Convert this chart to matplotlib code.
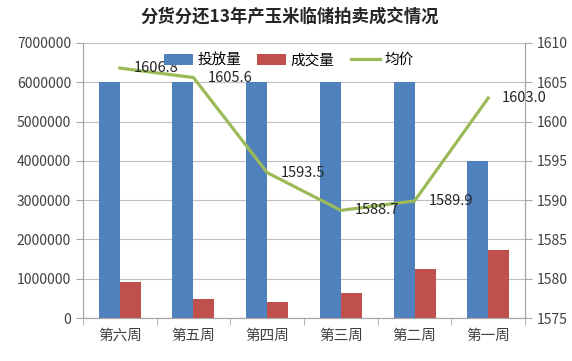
import numpy as np
import matplotlib.pyplot as plt
from matplotlib.ticker import FixedLocator, NullFormatter

plt.rcParams['font.family'] = ['Noto Sans CJK SC', 'DejaVu Sans']

# --- data ---
weeks = ['第六周', '第五周', '第四周', '第三周', '第二周', '第一周']
supply = [6000000, 6000000, 6000000, 6000000, 6000000, 4000000]     # 投放量
deals = [920000, 480000, 400000, 630000, 1250000, 1730000]          # 成交量
avg_price = [1606.8, 1605.6, 1593.5, 1588.7, 1589.9, 1603.0]        # 均价

blue = '#4F81BD'
red = '#C0504D'
green = '#9BBB59'
axis_grey = '#A6A6A6'
text_col = '#404040'

fig = plt.figure(figsize=(5.72, 3.61), dpi=100)
ax = fig.add_axes([0.145, 0.119, 0.773, 0.762])
ax2 = ax.twinx()

x = np.arange(len(weeks))
w = 0.285
b1 = ax.bar(x - w / 2, supply, w, color=blue, label='投放量', zorder=2)
b2 = ax.bar(x + w / 2, deals, w, color=red, label='成交量', zorder=2)
ln, = ax2.plot(x, avg_price, color=green, lw=2.3, label='均价', zorder=3)

for xi, v in zip(x, avg_price):
    ax2.annotate(f'{v:.1f}', (xi, v), xytext=(10, 0), textcoords='offset points',
                 ha='left', va='center', fontsize=10.5, color='#262626')

ax.set_xlim(-0.5, len(weeks) - 0.5)
ax.set_ylim(0, 7000000)
ax.set_yticks(np.arange(0, 7000001, 1000000))
ax.set_yticklabels([str(v) for v in range(0, 7000001, 1000000)])
ax.grid(axis='y', color='#BFBFBF', lw=0.8, zorder=0)
ax.set_axisbelow(True)

ax2.set_ylim(1575, 1610)
ax2.set_yticks(np.arange(1575, 1611, 5))

ax.set_xticks(x)
ax.set_xticklabels(weeks, fontsize=10.5, color=text_col)
ax.xaxis.set_minor_locator(FixedLocator(np.arange(-0.5, len(weeks), 1)))
ax.xaxis.set_minor_formatter(NullFormatter())
ax.tick_params(axis='x', which='major', length=0, pad=8)
ax.tick_params(axis='x', which='minor', length=5, color=axis_grey, direction='out')
ax.tick_params(axis='y', length=5, color=axis_grey, labelsize=10, labelcolor=text_col)
ax2.tick_params(axis='y', length=5, color=axis_grey, labelsize=10, labelcolor=text_col)

for a in (ax, ax2):
    a.spines['top'].set_visible(False)
    for s in ('left', 'right', 'bottom'):
        a.spines[s].set_color(axis_grey)

ax2.legend([b1, b2, ln], ['投放量', '成交量', '均价'], loc='upper center',
           bbox_to_anchor=(0.465, 1.0), ncol=3, frameon=False, fontsize=10.5,
           handlelength=2.0, handleheight=0.8, handletextpad=0.3,
           columnspacing=1.1, borderaxespad=0.3)

fig.text(0.507, 0.955, '分货分还13年产玉米临储拍卖成交情况', ha='center', va='center',
         fontsize=12.5, fontweight='bold', color='#262626')

fig.savefig('out.png', dpi=100)
